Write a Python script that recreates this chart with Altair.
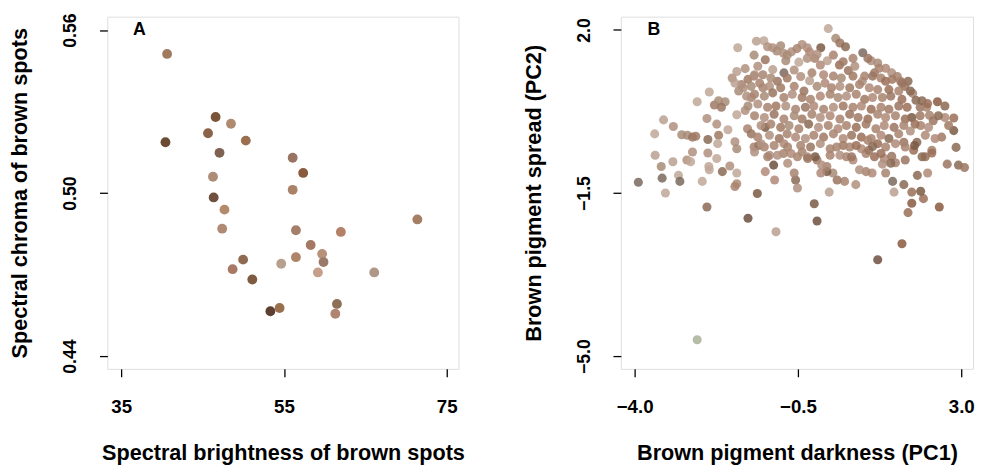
import altair as alt
import pandas as pd

# ---------------- Panel A data ----------------
A_BRIGHT = [40.64, 40.44, 46.60, 48.49, 45.67, 50.31, 47.08, 56.07, 57.36, 46.28,
            56.07, 46.36, 47.69, 71.39, 47.41, 56.47, 61.99, 58.28, 59.69, 59.86,
            56.47, 54.66, 49.98, 48.69, 51.11, 59.17, 66.09, 53.33, 54.46, 61.51, 61.31]
A_CHROMA = [0.5512, 0.5187, 0.5280, 0.5255, 0.5220, 0.5193, 0.5148, 0.5130, 0.5074, 0.5060,
            0.5012, 0.4984, 0.4939, 0.4903, 0.4869, 0.4863, 0.4857, 0.4809, 0.4776, 0.4746,
            0.4764, 0.4740, 0.4755, 0.4720, 0.4682, 0.4708, 0.4708, 0.4565, 0.4577, 0.4592, 0.4556]
A_COLOR = ["#a07a5f", "#6b4a33", "#7a5539", "#b08a6e", "#8a6448", "#9a6e4e", "#7e6252", "#9a7462",
           "#8a5a3c", "#ad8c78", "#a98268", "#70503e", "#b38b6c", "#a47f63", "#b08a74", "#a47f6a",
           "#b58068", "#a47864", "#b8917a", "#9a7a6a", "#b08468", "#b8a08e", "#8e6a50", "#a87a66",
           "#7e5a40", "#c4a08a", "#b09888", "#5e4030", "#98704e", "#8e7058", "#b08470"]

# ---------------- Panel B data ----------------
PALETTE = ["#a88470", "#b09080", "#9a7460", "#b8a090", "#8a6a54", "#a07a64", "#c0a898",
           "#7a5a44", "#9a6e58", "#b08a78", "#7a6a5e", "#a8b098", "#6e5040", "#8a5a40", "#a88c78"]

# (PC1, PC2, shade index)
B_OUTER = [(-3.92, -1.27, 10), (-2.66, -4.65, 11), (-2.45, -1.80, 4), (-1.57, -2.04, 12),
           (-1.37, -1.51, 7), (-0.97, -2.33, 3), (-0.15, -1.73, 7), (-0.09, -2.10, 12),
           (0.17, -1.48, 3), (1.21, -2.93, 12), (1.73, -2.59, 13), (2.53, -1.80, 13),
           (1.86, -1.92, 8), (1.94, -1.72, 13), (2.19, -1.62, 8), (2.13, -1.46, 7),
           (1.94, -1.48, 8), (1.77, -1.32, 4), (1.53, -1.25, 10), (1.56, -1.48, 3),
           (2.06, -1.12, 4), (2.28, -1.07, 9), (2.70, -0.88, 2), (2.94, -0.90, 4),
           (3.07, -0.95, 2), (2.89, -0.52, 4), (2.84, -0.16, 7), (2.84, 0.11, 8),
           (2.73, -0.05, 5), (2.51, 0.16, 4), (2.49, 0.46, 13), (2.28, 0.42, 8),
           (2.44, -0.33, 9), (2.37, -0.64, 8), (2.16, -0.72, 4), (2.00, -0.48, 7)]

B_LEFT = [(-3.57, -0.23, 6), (-3.38, 0.07, 3), (-3.56, -0.69, 3), (-3.43, -0.93, 14),
          (-3.41, -1.18, 10), (-3.34, -1.50, 6), (-3.18, -0.83, 3), (-3.17, -0.07, 1),
          (-3.06, -1.12, 6), (-3.03, -1.25, 10), (-2.99, -0.25, 14), (-2.87, -0.26, 14),
          (-2.76, -0.30, 2), (-2.69, -0.28, 5), (-2.88, -0.79, 1), (-2.80, -0.83, 6),
          (-2.76, -0.62, 1), (-2.66, 0.46, 6), (-2.55, -1.25, 6), (-2.45, 0.10, 1),
          (-2.43, -0.35, 4), (-2.43, -0.64, 1), (-2.41, -0.93, 6), (-2.40, -1.00, 6),
          (-2.40, 0.67, 6), (-2.29, 0.39, 5), (-2.20, 0.48, 14), (-2.06, 0.46, 14),
          (-2.14, 0.34, 2), (-2.24, -0.02, 1), (-2.20, -0.26, 5), (-2.22, -0.44, 6),
          (-2.24, -0.76, 6), (-2.12, -1.04, 4), (-2.00, -0.14, 6), (-1.96, -0.92, 1),
          (-1.85, -0.40, 1), (-1.81, -0.55, 14), (-1.81, 0.18, 6), (-1.81, -1.07, 6),
          (-1.81, -1.30, 9), (-1.85, -1.36, 0), (-1.79, 1.62, 6), (-1.91, 0.97, 1),
          (-1.81, 1.11, 3), (-1.77, 0.69, 14), (-1.63, 0.27, 1), (-1.63, 1.17, 1),
          (-1.71, 0.83, 0), (-1.57, 0.94, 5), (-1.50, 0.55, 0), (-1.58, -0.12, 0),
          (-1.50, -0.23, 2), (-1.44, -0.51, 0), (-1.34, -0.48, 2), (-1.20, -0.09, 7),
          (-1.22, -0.51, 0), (-1.20, -1.04, 9), (-1.02, -0.90, 12), (-1.00, -1.22, 9),
          (-1.11, -0.69, 1)]

B_UPPER = [(-1.39, 1.76, 3), (-1.23, 1.77, 6), (-1.44, 1.46, 14), (-1.20, 1.36, 2),
           (-1.36, 1.22, 1), (-1.44, 1.01, 0), (-1.25, 0.76, 0), (-1.04, 1.15, 3),
           (-1.04, 1.62, 1), (-0.87, 1.66, 14), (-0.95, 1.55, 14), (-0.81, 1.50, 1),
           (-0.64, 1.53, 1), (-0.76, 1.34, 14), (-0.80, 1.08, 10), (-0.94, 0.90, 2),
           (-0.58, 1.14, 1), (-0.48, 1.31, 6), (-0.41, 1.69, 1), (-0.30, 1.62, 1),
           (-0.25, 1.53, 9), (-0.14, 1.39, 0), (-0.01, 1.62, 7), (-0.09, 1.48, 1),
           (-0.25, 0.91, 3), (0.15, 2.03, 6), (0.13, 1.34, 3), (0.31, 1.82, 14),
           (0.40, 1.72, 2), (0.52, 1.64, 4), (0.39, 1.25, 8), (0.58, 1.13, 2),
           (0.72, 1.22, 1), (0.89, 1.51, 10), (1.07, 1.34, 1), (1.21, 1.29, 14),
           (0.88, 0.90, 1), (1.14, 1.08, 5), (1.51, 1.08, 1), (1.70, 0.90, 0),
           (1.86, 0.90, 4), (1.79, 0.79, 2), (1.96, 0.64, 0), (2.03, 0.49, 4),
           (1.94, 0.12, 7), (2.12, 0.34, 2), (2.13, -0.05, 0), (2.32, 0.17, 0),
           (-1.15, 1.64, 1), (-0.73, 1.46, 14), (-0.52, 1.60, 0), (-0.30, 1.39, 1),
           (-0.02, 1.25, 9), (0.26, 1.46, 0), (0.47, 1.32, 5), (0.68, 1.39, 0),
           (1.00, 1.39, 2), (1.24, 1.18, 0), (1.38, 1.18, 9), (1.63, 1.00, 0)]

B_LOWER = [(1.91, -0.17, 1), (1.80, -0.51, 0), (1.98, -0.58, 8), (1.80, -0.79, 2),
           (1.59, -0.85, 0), (1.51, -0.71, 2), (1.28, -0.65, 8), (1.31, -0.88, 1),
           (1.38, -1.07, 0), (1.49, -0.86, 4), (1.09, -1.07, 9), (0.96, -1.04, 0),
           (0.82, -1.00, 1), (0.74, -1.32, 1), (0.50, -1.25, 0), (0.34, -1.22, 2),
           (0.25, -1.07, 14), (0.12, -1.04, 7), (-0.01, -1.07, 9), (0.12, -0.93, 0),
           (0.01, -0.90, 1), (-0.13, -0.72, 7), (-0.29, -0.76, 2), (-0.51, -0.72, 0),
           (-0.55, -1.22, 4), (-0.51, -1.39, 1), (-0.58, -1.07, 0), (-0.72, -0.86, 1),
           (-0.81, -0.65, 0), (-0.94, -0.69, 1), (-0.72, -0.51, 0), (0.54, -0.72, 0),
           (0.65, -0.72, 2), (0.40, -0.69, 1), (0.33, -0.51, 0), (0.75, -0.48, 8),
           (1.00, -0.37, 0), (1.02, -0.58, 2), (1.10, -0.50, 4)]

B_CORE = [(-1.43, 1.04, 1), (-1.25, 1.04, 0), (-1.08, 0.97, 14), (-0.73, 0.97, 5),
          (-0.44, 1.00, 1), (-0.20, 1.08, 0), (0.05, 1.04, 9), (0.26, 1.01, 0),
          (0.43, 0.97, 14), (0.68, 1.01, 5), (0.93, 1.01, 0), (1.10, 1.01, 2),
          (1.28, 0.97, 0), (1.38, 0.90, 8), (1.52, 0.94, 5), (1.73, 0.86, 2),
          (-1.85, 0.86, 3), (-1.67, 0.76, 1), (-1.50, 0.79, 14), (-1.32, 0.86, 0),
          (-1.11, 0.79, 1), (-0.87, 0.76, 5), (-0.58, 0.79, 0), (-0.37, 0.69, 2),
          (-0.09, 0.79, 14), (0.08, 0.86, 9), (0.22, 0.76, 0), (0.40, 0.79, 1),
          (0.61, 0.76, 5), (0.82, 0.83, 0), (1.03, 0.76, 9), (1.21, 0.72, 0),
          (1.45, 0.72, 8), (1.66, 0.69, 0), (1.91, 0.69, 4),
          (-1.60, 0.58, 1), (-1.43, 0.62, 0), (-1.22, 0.58, 14), (-1.04, 0.65, 2),
          (-0.80, 0.55, 0), (-0.62, 0.62, 1), (-0.41, 0.55, 5), (-0.23, 0.51, 0),
          (-0.02, 0.58, 9), (0.19, 0.62, 0), (0.36, 0.55, 14), (0.54, 0.58, 1),
          (0.75, 0.62, 0), (0.93, 0.51, 5), (1.10, 0.55, 9), (1.31, 0.55, 0),
          (1.49, 0.58, 2), (1.73, 0.51, 8), (2.16, 0.48, 4),
          (-1.57, 0.37, 14), (-1.36, 0.41, 1), (-1.15, 0.34, 0), (-0.97, 0.37, 5),
          (-0.76, 0.37, 1), (-0.55, 0.30, 0), (-0.34, 0.34, 2), (-0.16, 0.37, 9),
          (0.05, 0.30, 0), (0.26, 0.34, 1), (0.47, 0.37, 5), (0.68, 0.34, 0),
          (0.86, 0.37, 9), (1.07, 0.30, 8), (1.28, 0.34, 0), (1.45, 0.30, 5),
          (1.66, 0.37, 2), (1.84, 0.34, 8), (2.26, 0.34, 0), (2.65, 0.37, 4),
          (-1.43, 0.16, 0), (-1.22, 0.12, 1), (-1.01, 0.19, 2), (-0.80, 0.09, 0),
          (-0.58, 0.16, 14), (-0.41, 0.09, 5), (-0.20, 0.19, 0), (-0.02, 0.12, 1),
          (0.19, 0.16, 9), (0.40, 0.09, 0), (0.61, 0.19, 2), (0.79, 0.12, 5),
          (1.00, 0.09, 8), (1.21, 0.19, 0), (1.38, 0.12, 9), (1.59, 0.16, 0),
          (1.80, 0.09, 8), (2.12, 0.16, 5), (2.40, 0.05, 2), (2.65, 0.12, 9),
          (-1.29, -0.05, 1), (-1.08, -0.02, 0), (-0.87, -0.09, 5), (-0.69, -0.05, 14),
          (-0.48, -0.12, 0), (-0.27, -0.02, 4), (-0.06, -0.09, 1), (0.15, -0.05, 0),
          (0.36, -0.12, 9), (0.54, -0.05, 0), (0.75, -0.09, 8), (0.96, -0.02, 5),
          (1.17, -0.12, 0), (1.35, -0.05, 9), (1.56, -0.09, 2), (1.77, -0.05, 0),
          (2.01, -0.02, 8), (2.30, -0.09, 1),
          (-1.36, -0.30, 0), (-1.11, -0.26, 1), (-0.90, -0.33, 2), (-0.73, -0.23, 0),
          (-0.55, -0.30, 9), (-0.34, -0.33, 1), (-0.16, -0.26, 0), (0.05, -0.30, 5),
          (0.26, -0.23, 0), (0.47, -0.33, 9), (0.65, -0.26, 2), (0.86, -0.30, 8),
          (1.07, -0.33, 0), (1.28, -0.26, 9), (1.45, -0.33, 4), (1.66, -0.23, 0),
          (2.23, -0.26, 9), (2.58, -0.30, 5),
          (-1.29, -0.44, 1), (-1.01, -0.48, 0), (-0.80, -0.44, 9), (-0.44, -0.48, 0),
          (-0.23, -0.51, 2), (-0.02, -0.44, 1), (0.19, -0.55, 0), (0.47, -0.48, 5),
          (0.61, -0.51, 0), (0.86, -0.55, 9), (1.21, -0.44, 8), (1.38, -0.51, 0),
          (1.59, -0.44, 9), (1.77, -0.41, 2), (2.05, -0.41, 4),
          (-1.43, -0.62, 1), (-1.15, -0.72, 0), (-0.65, -0.65, 9), (-0.41, -0.62, 0),
          (-0.30, -0.72, 1), (-0.09, -0.79, 5), (0.19, -0.69, 0), (0.68, -0.79, 9),
          (0.96, -0.65, 0), (1.14, -0.72, 8), (1.35, -0.76, 9), (2.23, -0.72, 8),
          (2.37, -0.58, 0)]

A_TICKS_X = [35, 55, 75]
A_TICKS_Y = [0.44, 0.50, 0.56]
B_TICKS_X = [-4.0, -0.5, 3.0]
B_TICKS_Y = [-5.0, -1.5, 2.0]

FONT = "Liberation Sans"

dfA = pd.DataFrame({"bright": A_BRIGHT, "chroma": A_CHROMA, "col": A_COLOR})
rowsB = B_LEFT + B_UPPER + B_CORE + B_LOWER + B_OUTER
dfB = pd.DataFrame(rowsB, columns=["pc1", "pc2", "shade"])
dfB["col"] = [PALETTE[s] for s in dfB["shade"]]


def xaxis(values, fmt, title):
    return alt.Axis(values=values, format=fmt, title=title, domain=False, grid=False,
                    tickSize=8, tickWidth=1.3, tickColor="black",
                    labelFont=FONT, labelFontSize=19, labelFontWeight="bold", labelColor="black",
                    labelPadding=21, labelFlush=False,
                    titleFont=FONT, titleFontSize=22, titleFontWeight="bold", titleColor="black",
                    titlePadding=27)


def yaxis(values, fmt, title):
    return alt.Axis(values=values, format=fmt, title=title, domain=False, grid=False,
                    tickSize=8, tickWidth=1.3, tickColor="black",
                    labelFont=FONT, labelFontSize=18, labelFontWeight="bold", labelColor="black",
                    labelAngle=270, labelAlign="center", labelBaseline="bottom",
                    labelPadding=20, labelFlush=False,
                    titleFont=FONT, titleFontSize=22, titleFontWeight="bold", titleColor="black",
                    titlePadding=31)


pointsA = alt.Chart(dfA).mark_circle(size=100, opacity=1).encode(
    x=alt.X("bright:Q", scale=alt.Scale(domain=[33.3, 76.45], nice=False, zero=False),
            axis=xaxis(A_TICKS_X, "d", "Spectral brightness of brown spots")),
    y=alt.Y("chroma:Q", scale=alt.Scale(domain=[0.4353, 0.5649], nice=False, zero=False),
            axis=yaxis(A_TICKS_Y, ".2f", "Spectral chroma of brown spots")),
    color=alt.Color("col:N", scale=None),
)
letterA = alt.Chart(pd.DataFrame({"t": ["A"]})).mark_text(
    font=FONT, fontSize=18, fontWeight="bold", align="left", baseline="alphabetic", color="black"
).encode(x=alt.value(26), y=alt.value(19), text="t:N")

pointsB = alt.Chart(dfB).mark_circle(size=85, opacity=0.85).encode(
    x=alt.X("pc1:Q", scale=alt.Scale(domain=[-4.295, 3.253], nice=False, zero=False),
            axis=xaxis(B_TICKS_X, ".1f", "Brown pigment darkness (PC1)")),
    y=alt.Y("pc2:Q", scale=alt.Scale(domain=[-5.274, 2.285], nice=False, zero=False),
            axis=yaxis(B_TICKS_Y, ".1f", "Brown pigment spread (PC2)")),
    color=alt.Color("col:N", scale=None),
)
letterB = alt.Chart(pd.DataFrame({"t": ["B"]})).mark_text(
    font=FONT, fontSize=18, fontWeight="bold", align="left", baseline="alphabetic", color="black"
).encode(x=alt.value(27), y=alt.value(19), text="t:N")

panelA = alt.layer(pointsA, letterA).properties(width=357, height=358)
panelB = alt.layer(pointsB, letterB).properties(width=358, height=358)

chart = alt.hconcat(panelA, panelB, spacing=165, bounds="flush").properties(
    padding={"left": 0, "top": 0, "right": 0, "bottom": 5},
).configure_view(stroke="#333333", strokeWidth=1.6).configure(background="white")

chart.save("out.html", embed_options={"renderer": "svg", "actions": False})
